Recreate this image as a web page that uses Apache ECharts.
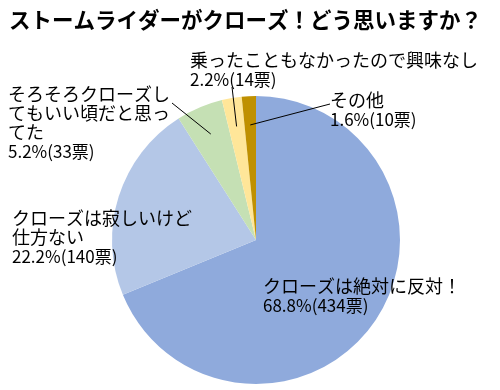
<!DOCTYPE html>
<html>
<head>
<meta charset="utf-8">
<script src="https://cdn.jsdelivr.net/npm/echarts@6/dist/echarts.min.js"></script>
<style>
  html, body { margin: 0; padding: 0; background: #fff; }
  #chart { width: 500px; height: 390px; }
</style>
</head>
<body>
<div id="chart"></div>
<script>
const titleText = 'ストームライダーがクローズ！どう思いますか？'
const categories = [
  'クローズは絶対に反対！',
  'クローズは寂しいけど\n仕方ない',
  'そろそろクローズし\nてもいい頃だと思っ\nてた',
  '乗ったこともなかったので興味なし',
  'その他'
]
const votes = [434, 140, 33, 14, 10]
const colors = ['#8FAADC', '#B4C7E7', '#C5E0B4', '#FFE699', '#BF9000']

// label placement (top-left of each label box) and leader line start
const labelPos = [[263, 277], [12, 209], [8, 85], [190, 51], [330, 91]]
const lineStart = [null, null, [172, 103], [232, 87], [330, 104]]

const center = [256, 240]
const radius = 144
const total = votes.reduce((a, b) => a + b, 0)

// 扇形中心角度 (from 12 o'clock, clockwise)
const midAngles = []
let acc = 0
votes.forEach(v => {
  midAngles.push((acc + v / 2) / total * 2 * Math.PI)
  acc += v
})

// 引出线: from label to a point inside the slice
const leaderLines = []
lineStart.forEach((s, i) => {
  if (!s) return
  const r = radius * 0.8
  leaderLines.push({
    type: 'line',
    z: 100,
    shape: {
      x1: s[0],
      y1: s[1],
      x2: center[0] + r * Math.sin(midAngles[i]),
      y2: center[1] - r * Math.cos(midAngles[i])
    },
    style: { stroke: '#000', lineWidth: 1 }
  })
})

const chart = echarts.init(document.getElementById('chart'))

chart.setOption({
  animation: false,
  backgroundColor: '#ffffff',
  title: {
    text: titleText,
    left: 4,
    top: 4,
    textStyle: {
      fontFamily: 'Noto Sans CJK JP',
      fontSize: 21.5,
      fontWeight: 'bold',
      color: '#000'
    }
  },
  graphic: leaderLines,
  series: [
    {
      type: 'pie',
      center: center,
      radius: radius,
      startAngle: 90,
      clockwise: true,
      avoidLabelOverlap: false,
      itemStyle: { borderWidth: 0 },
      label: {
        show: true,
        position: 'outside',
        formatter: function (p) {
          const pct = (votes[p.dataIndex] / total * 100).toFixed(1)
          return '{a|' + p.name + '}\n{b|' + pct + '%(' + votes[p.dataIndex] + '票)}'
        },
        rich: {
          a: {
            fontFamily: 'Noto Sans CJK JP',
            fontSize: 18,
            lineHeight: 19,
            color: '#000'
          },
          b: {
            fontFamily: 'Liberation Sans Narrow, Noto Sans CJK JP',
            fontSize: 17,
            lineHeight: 19,
            color: '#000'
          }
        }
      },
      labelLine: { show: false },
      labelLayout: function (params) {
        const i = params.dataIndex
        return {
          x: labelPos[i][0],
          y: labelPos[i][1],
          align: 'left',
          verticalAlign: 'top'
        }
      },
      data: categories.map((name, i) => ({
        name: name,
        value: votes[i],
        itemStyle: { color: colors[i] }
      }))
    }
  ]
})
</script>
</body>
</html>
